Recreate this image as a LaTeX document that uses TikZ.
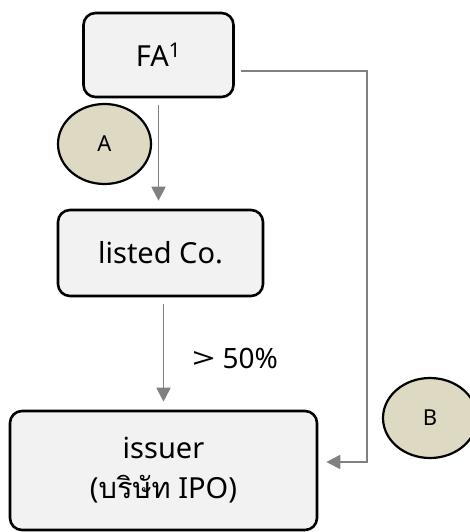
\documentclass[tikz,border=0pt]{standalone}
\usepackage{fontspec}
\setmainfont{Noto Sans}
\newfontfamily\thaifont[Script=Thai]{Loma}
\usetikzlibrary{shapes.geometric,arrows.meta}
\definecolor{boxfill}{HTML}{F2F2F2}
\definecolor{tan}{HTML}{DDD9C3}
\definecolor{arrowgray}{HTML}{808080}
\tikzset{
  box/.style={draw=black, line width=2.6pt, fill=boxfill, rounded corners=12pt,
    inner sep=0pt, align=center, font=\fontsize{29}{40}\selectfont},
  tag/.style={draw=black, line width=2.2pt, fill=tan, ellipse, inner sep=0pt,
    font=\fontsize{22}{24}\selectfont},
  arr/.style={draw=arrowgray, line width=1.8pt, -{Triangle[width=14pt,length=14pt]}}
}
\begin{document}
\begin{tikzpicture}[x=1pt,y=-1pt]
\useasboundingbox (0,0) rectangle (470,532);
\clip (0,0) rectangle (470,532);
\node[box, minimum width=150pt, minimum height=84pt] (fa) at (158.5,55) {FA\textsuperscript{1}};
\node[tag, minimum width=93pt, minimum height=80pt] (a) at (104.5,144) {A};
\node[box, minimum width=205pt, minimum height=86pt] (listed) at (160.5,253) {listed Co.};
\node[anchor=west, inner sep=0pt, font=\fontsize{28}{30}\selectfont] (pct) at (192,358) {\scalebox{1.45}[1]{>} 50\%};
\node[box, minimum width=307pt, minimum height=119pt] (issuer) at (163.5,470.5) {issuer\\({\thaifont บริษัท} IPO)};
\node[tag, minimum width=94pt, minimum height=80pt] (b) at (430,418) {B};
\coordinate (r1) at (367,71);
\coordinate (r2) at (367,462);
\draw[arr, shorten <=7pt, shorten >=8pt] (fa.south) -- (fa.south |- listed.north);
\draw[arr, shorten <=7pt, shorten >=8pt] (listed.south -| issuer.north) -- (issuer.north);
\draw[arr, shorten >=8pt] ([xshift=6pt]fa.east |- r1) -- (r1) -- (r2) -- (issuer.east |- r2);
\end{tikzpicture}
\end{document}
